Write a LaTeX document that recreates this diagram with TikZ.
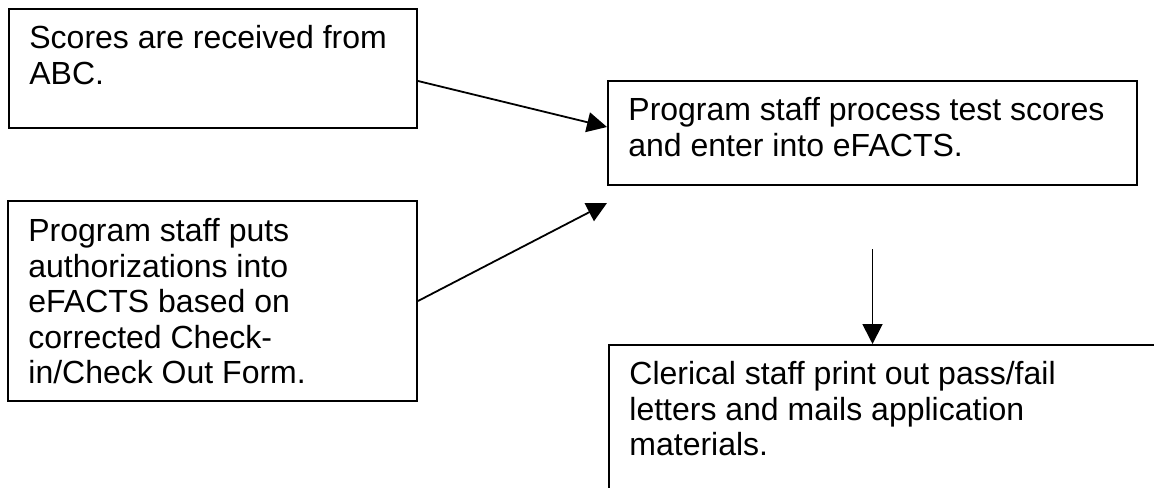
\documentclass[tikz,border=0pt]{standalone}
\usepackage{fontspec}
\setmainfont{Liberation Sans}
\usetikzlibrary{arrows.meta,calc}

\tikzset{
  stepbox/.style={draw, line width=1pt, inner sep=0pt, anchor=north west},
  steptext/.style={anchor=north west, inner sep=0pt, align=left,
    font=\fontsize{16}{17.8}\selectfont},
  flow/.style={-{Triangle[length=10pt,width=10pt]}, line width=0.9pt},
}

\begin{document}
\begin{tikzpicture}[x=0.5pt, y=-0.5pt]
                \useasboundingbox (0,0) rectangle (1154,487);

                % left column
                \node[stepbox, minimum width=204pt, minimum height=59.5pt] (scores) at (8,8) {};
                \node[steptext] (scorestxt) at ($(scores.north west)+(21,17)$) {Scores are received from\\ABC.};

                \node[stepbox, minimum width=204.5pt, minimum height=100pt] (checkin) at (7,200) {};
                \node[steptext] (checkintxt) at ($(checkin.north west)+(21,18)$) {Program staff puts\\authorizations into\\eFACTS based on\\corrected Check-\\in/Check Out Form.};

                % right column
                \node[stepbox, minimum width=264.5pt, minimum height=52pt] (process) at (607,80) {};
                \node[steptext] (processtxt) at ($(process.north west)+(21,17)$) {Program staff process test scores\\and enter into eFACTS.};

                \node[stepbox, minimum width=300pt, minimum height=100pt] (clerical) at (608,344) {};
                \node[steptext] (clericaltxt) at ($(clerical.north west)+(21,17)$) {Clerical staff print out pass/fail\\letters and mails application\\materials.};

                % arrows
                \draw[flow] ($(scores.north east)+(0,73)$) -- ($(process.north west)+(0,47)$);
                \draw[flow] (checkin.east) -- ($(process.south west)+(0,17)$);
                \draw[flow] ($(process.south)+(0,63)$) -- (process.south |- clerical.north);
            \end{tikzpicture}
\end{document}
